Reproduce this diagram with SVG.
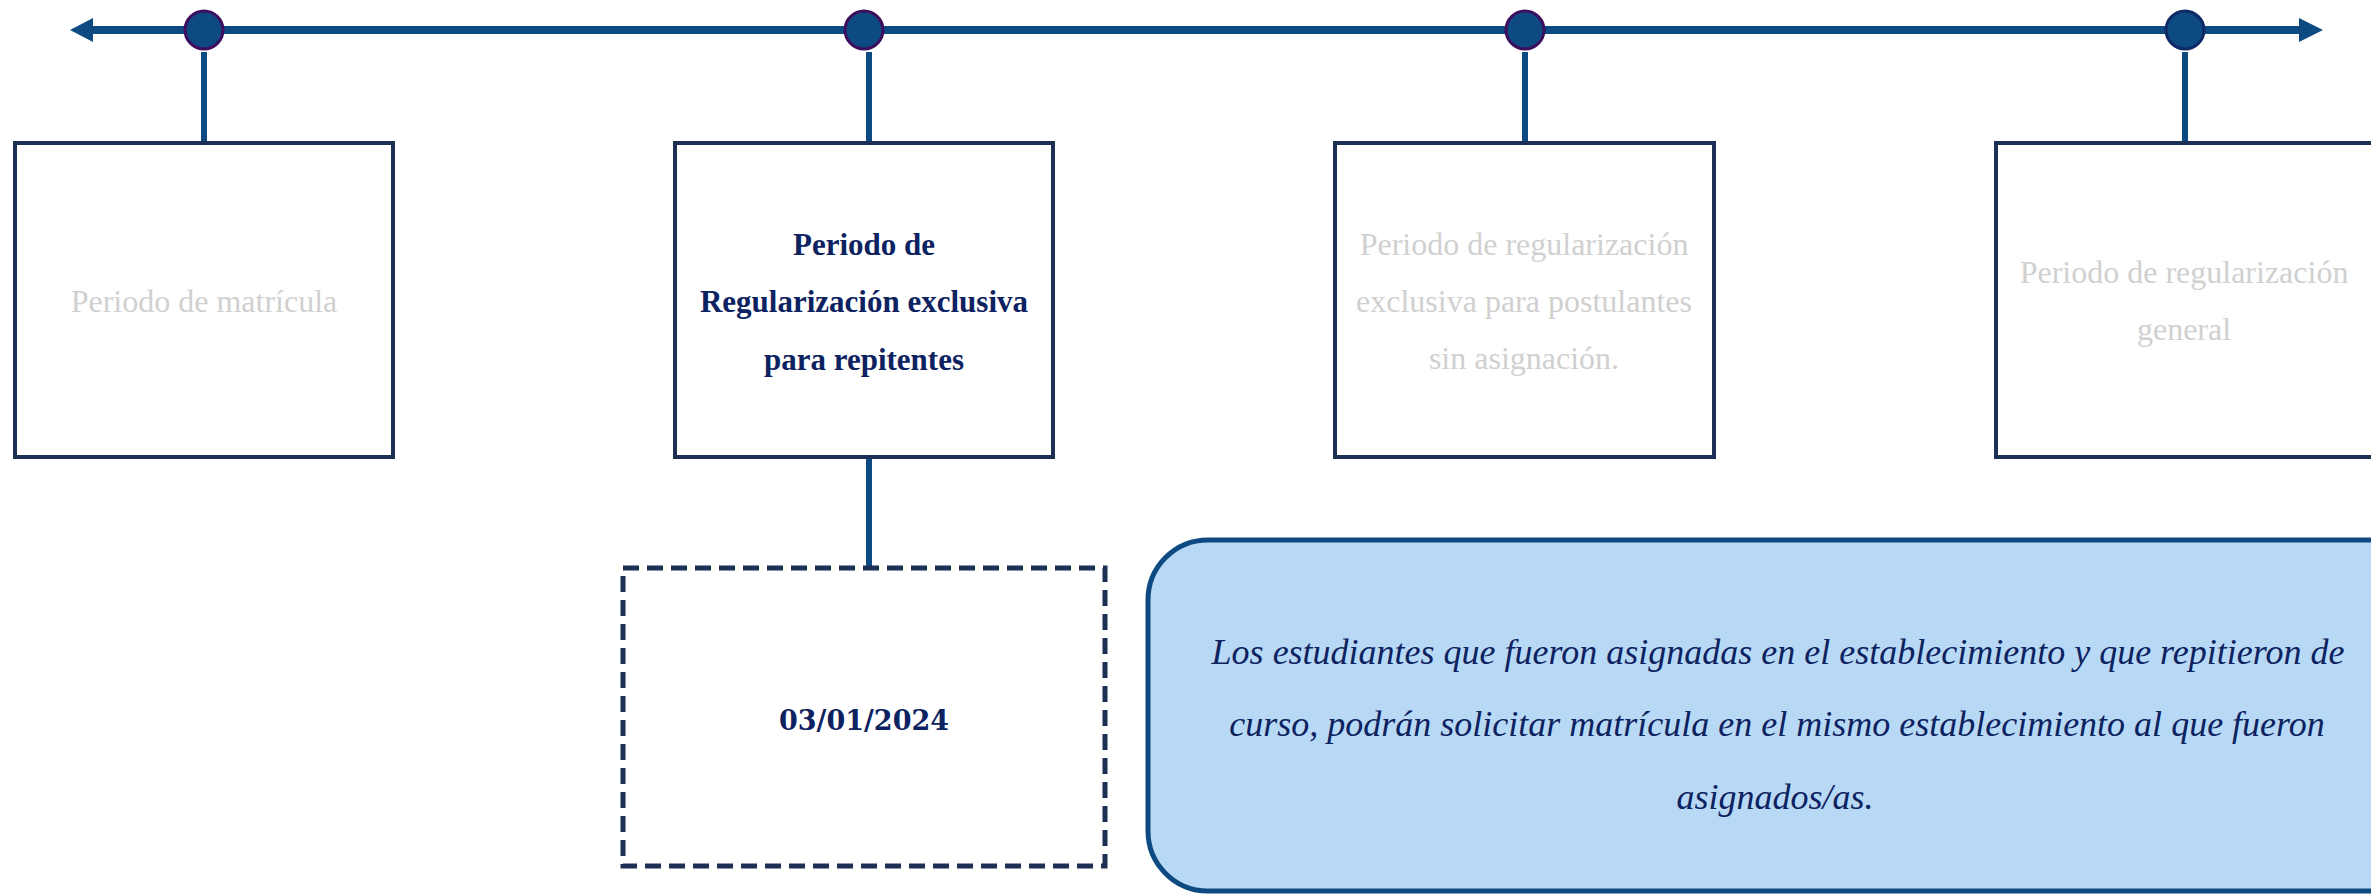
<svg xmlns="http://www.w3.org/2000/svg" width="2371" height="895" viewBox="0 0 2371 895">
<style>
.box{fill:#ffffff;stroke:#1c2f55;stroke-width:4}
.dash{fill:#ffffff;stroke:#1c2f55;stroke-width:5;stroke-dasharray:16 8}
.dot{fill:#0e4a82;stroke:#3d0d5e;stroke-width:3}
.tl{stroke:#0e4a82;stroke-width:8;fill:none}
.stem{stroke:#0e4a82;stroke-width:6;fill:none}
.head{fill:#0e4a82}
.gray{font-family:"Liberation Serif","Times New Roman",serif;font-size:32px;fill:#d0d0d0;text-anchor:middle}
.bold{font-family:"Liberation Serif","Times New Roman",serif;font-size:31px;font-weight:bold;fill:#0d2260;text-anchor:middle}
.date{font-family:"DejaVu Serif",serif;font-size:27px;font-weight:bold;fill:#0d2260;text-anchor:middle}
.ital{font-family:"Liberation Serif","Times New Roman",serif;font-size:36px;font-style:italic;fill:#0d2260;text-anchor:middle}
.note{fill:#b8d9f5;stroke:#0e4a82;stroke-width:5}
</style>
<g id="connectors">
<line class="tl" x1="92" y1="30" x2="2300" y2="30"/>
<polygon class="head" points="70,30 93,18 93,42"/>
<polygon class="head" points="2323,30 2299,18 2299,42"/>
<line class="stem" x1="204" y1="52" x2="204" y2="142"/>
<line class="stem" x1="869" y1="52" x2="869" y2="142"/>
<line class="stem" x1="1525" y1="52" x2="1525" y2="142"/>
<line class="stem" x1="2185" y1="52" x2="2185" y2="142"/>
<line class="stem" x1="869" y1="458" x2="869" y2="568"/>
</g>
<g id="dot1"><circle class="dot" cx="204" cy="30" r="19"/></g>
<g id="dot2"><circle class="dot" cx="864" cy="30" r="19"/></g>
<g id="dot3"><circle class="dot" cx="1525" cy="30" r="19"/></g>
<g id="dot4"><circle class="dot" cx="2185" cy="30" r="19" style="stroke:#0d2a66"/></g>
<g id="box1">
<rect class="box" x="15" y="143" width="378" height="314"/>
<text class="gray" x="204" y="312">Periodo de matrícula</text>
</g>
<g id="box2">
<rect class="box" x="675" y="143" width="378" height="314"/>
<text class="bold" x="864" y="255">Periodo de</text>
<text class="bold" x="864" y="312">Regularización exclusiva</text>
<text class="bold" x="864" y="370">para repitentes</text>
</g>
<g id="box3">
<rect class="box" x="1335" y="143" width="379" height="314"/>
<text class="gray" x="1524" y="255">Periodo de regularización</text>
<text class="gray" x="1524" y="312">exclusiva para postulantes</text>
<text class="gray" x="1524" y="369">sin asignación.</text>
</g>
<g id="box4">
<rect class="box" x="1996" y="143" width="378" height="314"/>
<text class="gray" x="2184" y="283">Periodo de regularización</text>
<text class="gray" x="2184" y="340">general</text>
</g>
<g id="date">
<rect class="dash" x="623" y="568" width="482" height="298"/>
<text class="date" x="864" y="730">03/01/2024</text>
</g>
<g id="note">
<rect class="note" x="1148" y="540" width="1280" height="351" rx="60" ry="60"/>
<text class="ital" x="1778" y="664">Los estudiantes que fueron asignadas en el establecimiento y que repitieron de</text>
<text class="ital" x="1777" y="736">curso, podrán solicitar matrícula en el mismo establecimiento al que fueron</text>
<text class="ital" x="1775" y="809">asignados/as.</text>
</g>
</svg>
